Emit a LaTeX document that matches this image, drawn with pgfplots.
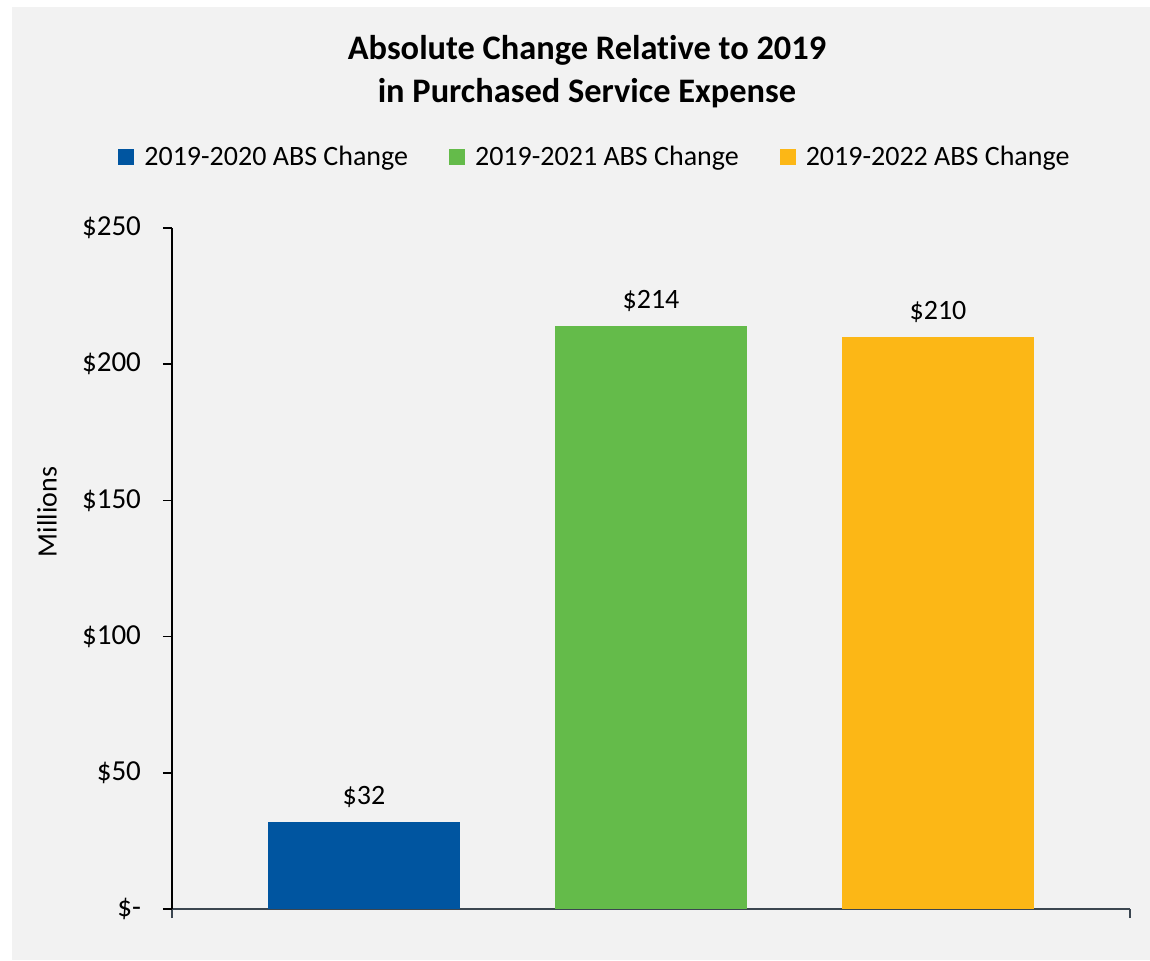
\documentclass[border=0pt]{standalone}
\usepackage{fontspec}
\setmainfont{Carlito}[Ligatures=NoCommon]
\usepackage{pgfplots}
\pgfplotsset{compat=1.18}
\definecolor{bgc}{HTML}{F2F2F2}
\definecolor{cblue}{HTML}{0055A0}
\definecolor{cgreen}{HTML}{64BB4A}
\definecolor{cyellow}{HTML}{FCB716}
\definecolor{xax}{HTML}{3B4650}
\begin{document}
\begin{tikzpicture}
\fill[white] (0,0) rectangle (575pt,480pt);
\fill[bgc] (6pt,0) rectangle (575pt,476.5pt);
\begin{axis}[
  at={(86pt,25.5pt)}, anchor=south west,
  scale only axis, width=479pt, height=340.5pt,
  xmin=0.331, xmax=3.669, ymin=0, ymax=250,
  axis lines*=left,
  ytick={0,50,100,150,200,250},
  yticklabels={\$-,\$50,\$100,\$150,\$200,\$250},
  xtick={0.331,3.669}, xticklabels={,},
  tick align=outside, major tick length=4.5pt,
  ytick style={black, line width=0.8pt},
  xtick style={xax, line width=1.2pt},
  y axis line style={-,black,line width=0.8pt},
  x axis line style={-,xax,line width=1.2pt},
  ticklabel style={font=\fontsize{14.5}{17}\selectfont},
  yticklabel style={xshift=-7.5pt},
  /pgf/number format/assume math mode=true,
  ybar, bar width=96pt, bar shift=0pt,
  nodes near coords={\$\pgfmathprintnumber{\pgfplotspointmeta}},
  every node near coord/.append style={font=\fontsize{14}{17}\selectfont, black, yshift=3.5pt},
  legend columns=3,
  legend style={at={(0.4425,1.104)}, anchor=center, draw=none, fill=none,
    font=\fontsize{14}{17}\selectfont,
    /tikz/every even column/.append style={column sep=18.5pt}},
  legend image code/.code={\fill[#1] (0pt,-4pt) rectangle (8pt,4pt);},
  legend cell align=left,
  clip=false,
]
\addplot[fill=cblue, draw=none] coordinates {(1,32)};
\addlegendentry{\hspace{3pt}2019-2020 ABS Change}
\addplot[fill=cgreen, draw=none] coordinates {(2,214)};
\addlegendentry{\hspace{3pt}2019-2021 ABS Change}
\addplot[fill=cyellow, draw=none] coordinates {(3,210)};
\addlegendentry{\hspace{3pt}2019-2022 ABS Change}
\end{axis}
\node[align=center, font=\bfseries\fontsize{17.2}{21.5}\selectfont] at (293.5pt,444.25pt)
  {Absolute Change Relative to 2019\\in Purchased Service Expense};
\node[rotate=90, font=\fontsize{14}{17}\selectfont] at (23.5pt,224pt) {Millions};
\end{tikzpicture}
\end{document}
